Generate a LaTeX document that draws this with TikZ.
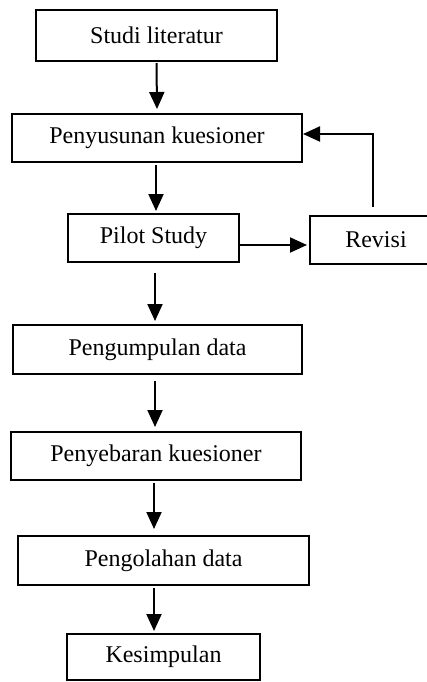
\documentclass[tikz,border=0pt]{standalone}
\usepackage{fontspec}
\setmainfont{Liberation Serif}
\usetikzlibrary{arrows.meta}

\tikzset{
  box/.style={draw, line width=1pt, inner sep=0pt, font=\fontsize{12}{14}\selectfont},
  arr/.style={line width=1pt, -{Triangle[length=8.5pt,width=7.5pt]}}
}

\begin{document}
\begin{tikzpicture}[x=0.5pt,y=-0.5pt]
\useasboundingbox (0,0) rectangle (427,682);

% Boxes
\node[box,minimum width=120.5pt,minimum height=25.5pt] (lit) at (156.5,35.5) {Studi literatur};
\node[box,minimum width=145pt,minimum height=24pt] (kues) at (157,138) {Penyusunan kuesioner};
\node[box,minimum width=85.5pt,minimum height=24pt] (pilot) at (153.5,238) {Pilot Study};
\node[box,minimum width=66pt,minimum height=24pt] (rev) at (376,240) {Revisi};
\node[box,minimum width=144.5pt,minimum height=24.5pt] (kumpul) at (157.5,349.5) {Pengumpulan data};
\node[box,minimum width=145pt,minimum height=24pt] (sebar) at (156,456) {Penyebaran kuesioner};
\node[box,minimum width=145.5pt,minimum height=24.5pt] (olah) at (163.5,560.5) {Pengolahan data};
\node[box,minimum width=96.5pt,minimum height=23pt] (simpul) at (163.5,657) {Kesimpulan};

% Arrows
\draw[arr] ([yshift=-0.5pt]lit.south) -- ([yshift=2pt]kues.north);
\draw[arr] ([xshift=-0.5pt,yshift=-1pt]kues.south) -- ([xshift=1.25pt,yshift=1pt]pilot.north);
\draw[arr] ([xshift=0.75pt,yshift=-5pt]pilot.south) -- ([xshift=-1.25pt,yshift=1.5pt]kumpul.north);
\draw[arr] ([xshift=-1.25pt,yshift=-3pt]kumpul.south) -- ([xshift=-0.5pt,yshift=2pt]sebar.north);
\draw[arr] ([xshift=-1pt,yshift=-1pt]sebar.south) -- ([xshift=-4.75pt,yshift=3pt]olah.north);
\draw[arr] ([xshift=-4.75pt,yshift=-1pt]olah.south) -- ([xshift=-4.75pt,yshift=1pt]simpul.north);

% Revision loop
\draw[arr] ([yshift=-3.5pt]pilot.east) -- ([xshift=-1pt,yshift=-2.5pt]rev.west);
\draw[arr] ([xshift=-1.5pt,yshift=4pt]rev.north) |- ([yshift=2pt]kues.east);
\end{tikzpicture}
\end{document}
